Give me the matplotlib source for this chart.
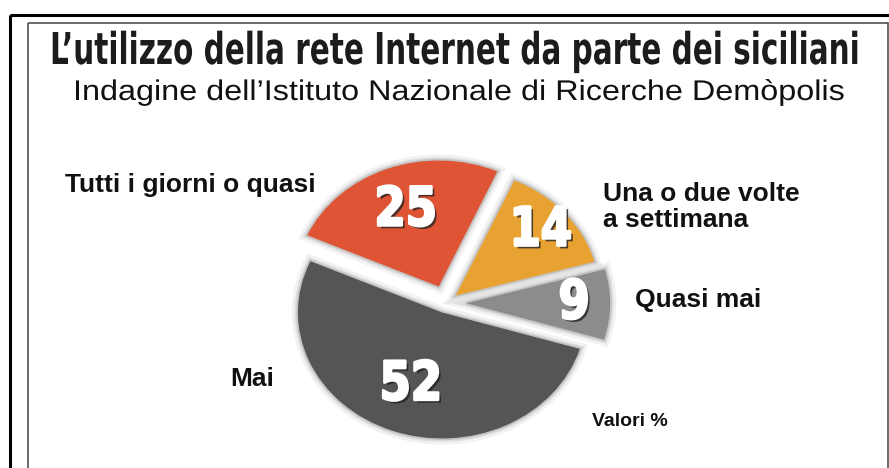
import matplotlib
matplotlib.use("Agg")
import numpy as np
import matplotlib.pyplot as plt
import matplotlib.patheffects as pe
from matplotlib.patches import Rectangle, Wedge
from matplotlib.transforms import Affine2D

# survey data (percent)
categories = ["Tutti i giorni o quasi", "Una o due volte\na settimana", "Quasi mai", "Mai"]
values = [25, 14, 9, 52]
colors = ["#DE5434", "#E8A232", "#8C8C8C", "#555555"]

title = "L\u2019utilizzo della rete Internet da parte dei siciliani"
subtitle = "Indagine dell\u2019Istituto Nazionale di Ricerche Dem\u00f2polis"
note = "Valori %"

W, H = 889, 468
fig = plt.figure(figsize=(W / 100, H / 100), dpi=100)
fig.patch.set_facecolor("white")


class Reshape(pe.AbstractPathEffect):
    """Scale glyphs by (sx, sy) around the display point (x0, y0),
    then hand the path to the inner effects."""
    def __init__(self, sx, sy, x0, y0, inner=None):
        super().__init__()
        self.sx, self.sy, self.x0, self.y0 = sx, sy, x0, y0
        self.inner = inner or [pe.Normal()]

    def draw_path(self, renderer, gc, tpath, affine, rgbFace=None):
        a = affine + (Affine2D().translate(-self.x0, -self.y0)
                      .scale(self.sx, self.sy).translate(self.x0, self.y0))
        for e in self.inner:
            e.draw_path(renderer, gc, tpath, a, rgbFace)


# full-figure axes in pixel coords (y down) for frame and texts
bg = fig.add_axes([0, 0, 1, 1])
bg.set_xlim(0, W)
bg.set_ylim(H, 0)
bg.axis("off")

bg.add_patch(Rectangle((10, 15), 900, 500, fill=False, ec="black", lw=2.2, clip_on=False))
bg.add_patch(Rectangle((27.5, 22.5), 860, 500, fill=False, ec="#444444", lw=1.1, clip_on=False))

t1 = bg.text(455, 64, title, ha="center", va="baseline", fontsize=31,
             fontweight="bold", color="#1c1c1c", family=["DejaVu Sans"])
t2 = bg.text(459, 100, subtitle, ha="center", va="baseline", fontsize=20.5,
             color="#111111", family=["Liberation Sans"])

# heading: keep its box inside the figure, then narrow/raise the glyphs
fig.canvas.draw()
r = fig.canvas.get_renderer()
w = t1.get_window_extent(renderer=r).width
t1.set_fontsize(31 * min(1.0, 860 / w))
fig.canvas.draw()
ext = t1.get_window_extent(renderer=r)
size_px = t1.get_fontsize() * 100 / 72
t1.set_path_effects([Reshape(810 / ext.width, 32 / (0.729 * size_px),
                             (ext.x0 + ext.x1) / 2, H - 64)])
ext = t2.get_window_extent(renderer=r)
t2.set_path_effects([Reshape(772 / ext.width, 1.0, (ext.x0 + ext.x1) / 2, H - 100)])

lab = dict(fontsize=19, fontweight="bold", color="#111111", family=["Liberation Sans"])
bg.text(65, 192, categories[0], ha="left", va="baseline", **lab)
bg.text(603, 182, categories[1], ha="left", va="top", linespacing=1.12, **lab)
bg.text(635, 307, categories[2], ha="left", va="baseline", **lab)
bg.text(230, 386, categories[3], ha="left", va="baseline", **lab)
bg.text(592, 426, note, ha="left", va="baseline", fontsize=14, fontweight="bold",
        color="#111111", family=["Liberation Sans"])

# pie axes: ellipse by giving the axes a different pixel width/height
cx, cy, rx, ry = 446, 303, 144, 126
lim = 1.3
ax = fig.add_axes([(cx - lim * rx) / W, (H - cy - lim * ry) / H,
                   2 * lim * rx / W, 2 * lim * ry / H])
explode = [0.14, 0.09, 0.14, 0.08]
wedges, _ = ax.pie(values, colors=colors, explode=explode, startangle=156,
                   counterclock=False, wedgeprops=dict(linewidth=0))
ax.set_aspect("auto")
ax.set_xlim(-lim, lim)
ax.set_ylim(-lim, lim)
ax.axis("off")

# soft shadow around each slice
for w in wedges:
    for lw, a in ((9, 0.05), (5, 0.08), (2.5, 0.12)):
        ax.add_patch(Wedge(w.center, w.r, w.theta1, w.theta2, fill=False,
                           ec=(0, 0, 0, a), lw=lw, zorder=0.5))

# white numbers with a dark drop shadow, a bit taller than the font
num_dist = [0.64, 0.78, 0.75, 0.62]
nums = []
for w, v, d in zip(wedges, values, num_dist):
    mid = np.deg2rad((w.theta1 + w.theta2) / 2)
    x = w.center[0] + d * np.cos(mid)
    y = w.center[1] + d * np.sin(mid)
    nums.append(ax.text(x, y, str(v), ha="center", va="center", fontsize=34,
                        fontweight="bold", color="white", family=["DejaVu Sans"]))

fig.canvas.draw()
for t in nums:
    e = t.get_window_extent(renderer=r)
    inner = [pe.SimplePatchShadow(offset=(2, -2), shadow_rgbFace="#222222", alpha=0.8),
             pe.Stroke(linewidth=1.8, foreground="white"), pe.Normal()]
    t.set_path_effects([Reshape(0.95, 1.14, (e.x0 + e.x1) / 2, (e.y0 + e.y1) / 2, inner)])

fig.savefig("out.png", dpi=100)
